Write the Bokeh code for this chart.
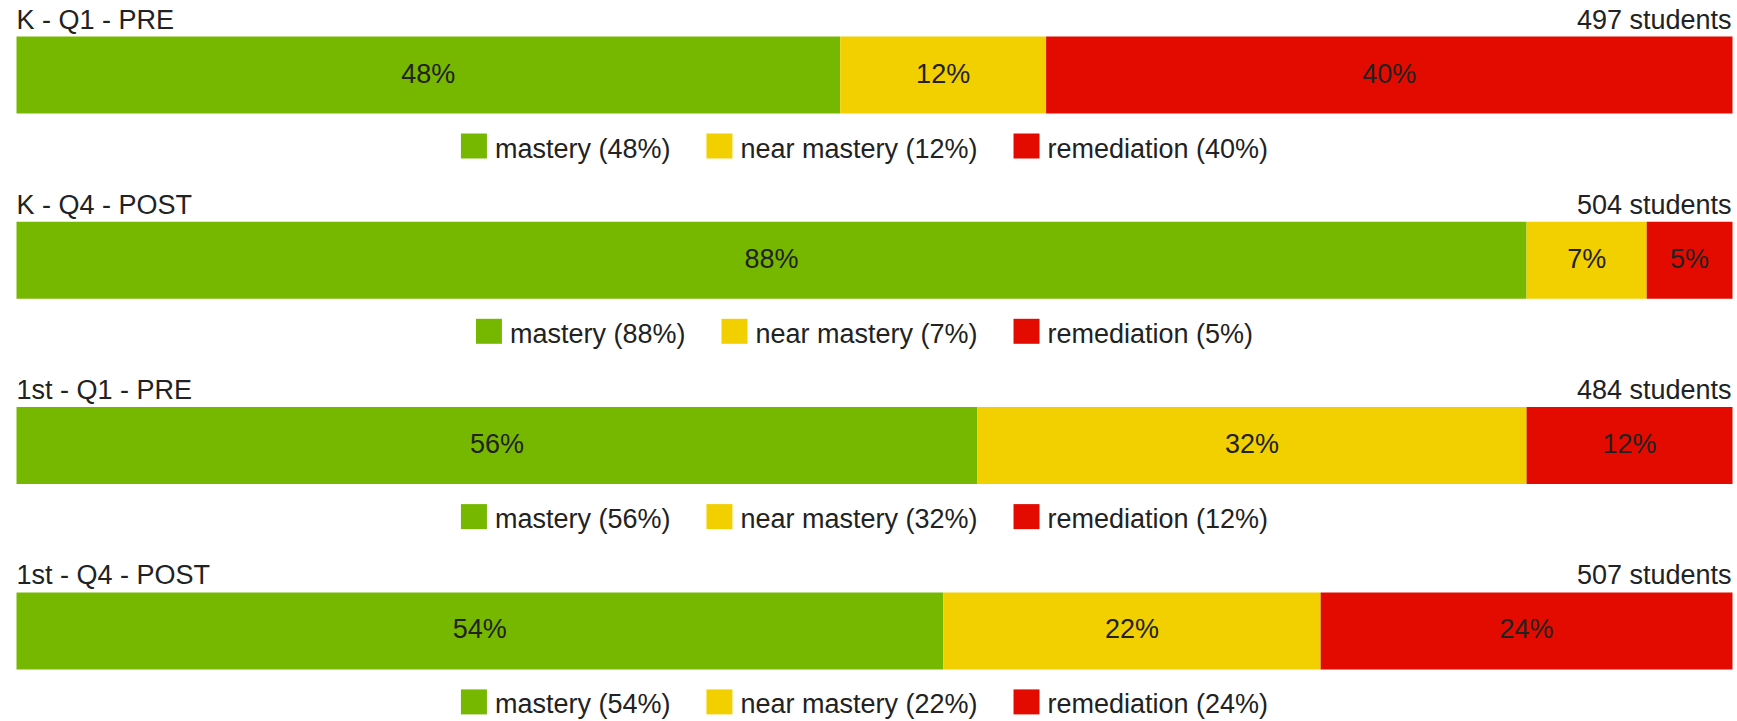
from bokeh.plotting import figure
from bokeh.models import Range1d, ColumnDataSource
from bokeh.core.properties import value
from bokeh.embed import file_html
from bokeh.resources import INLINE

# ---- data ----
groups = ["K - Q1 - PRE", "K - Q4 - POST", "1st - Q1 - PRE", "1st - Q4 - POST"]
students = [497, 504, 484, 507]
mastery = [48, 88, 56, 54]
near_mastery = [12, 7, 32, 22]
remediation = [40, 5, 12, 24]
series_names = ["mastery", "near mastery", "remediation"]
colors = ["#76b800", "#f2d000", "#e30b00"]

# ---- layout (page pixels) ----
FONT = value("Liberation Sans")
FS = 27
FSS = "27px"
TXT = "#222222"
W, H = 1737, 721
ORG = 0
BAR_L, BAR_R = 16, 1732
PITCH = 185.3
DY0 = 0.0
BAR_H = 77
LEG_CENTER = 864
TSHIFT = -9  # renderer places alphabetic baseline lower; compensate

pxpp = (BAR_R - BAR_L) / 100.0
p = figure(width=W, height=H, output_backend="svg", toolbar_location=None,
           x_range=Range1d(-(BAR_L - ORG) / pxpp, (ORG + W - BAR_L) / pxpp),
           y_range=Range1d(ORG + H, ORG), min_border=0,
           x_axis_location=None, y_axis_location=None)
p.extra_x_ranges = {"px": Range1d(ORG, ORG + W)}
p.grid.visible = False
p.outline_line_color = None
p.background_fill_color = "white"
p.border_fill_color = "white"

offs = [DY0 + PITCH * i for i in range(len(groups))]
bar_y = [36 + o + BAR_H / 2 for o in offs]

src = ColumnDataSource(dict(y=bar_y, mastery=mastery, near=near_mastery, rem=remediation))
p.hbar_stack(["mastery", "near", "rem"], y="y", height=BAR_H, color=colors,
             line_color=None, source=src)

# in-bar percentage labels
lx, ly, lt = [], [], []
for i in range(len(groups)):
    vals = [mastery[i], near_mastery[i], remediation[i]]
    cum = 0
    for v in vals:
        lx.append(cum + v / 2.0)
        ly.append(36 + offs[i] + 46 + TSHIFT)
        lt.append(f"{v}%")
        cum += v
p.text(x=lx, y=ly, text=lt, text_align="center", text_baseline="alphabetic",
       text_font=FONT, text_font_size=FSS, text_color=TXT)

# titles & student counts
p.text(x=[BAR_L] * len(groups), y=[28 + o + TSHIFT for o in offs], text=groups,
       x_range_name="px", text_align="left", text_baseline="alphabetic",
       text_font=FONT, text_font_size=FSS, text_color=TXT)
p.text(x=[BAR_R - 1] * len(groups), y=[28 + o + TSHIFT for o in offs],
       text=[f"{s} students" for s in students],
       x_range_name="px", text_align="right", text_baseline="alphabetic",
       text_font=FONT, text_font_size=FSS, text_color=TXT)

# legends (centered, width estimated from Arial metrics)
CW = {'a': 556, 'b': 556, 'c': 500, 'd': 556, 'e': 556, 'i': 222, 'm': 833, 'n': 556,
      'o': 556, 'r': 333, 's': 500, 't': 278, 'y': 500, ' ': 278, '(': 333, ')': 333,
      '%': 889}
def tw(s):
    return sum(CW.get(c, 556) for c in s) / 1000.0 * FS

SW, GAP_T, GAP_I = 26, 8, 36
ql, qr, qt, qb, qc = [], [], [], [], []
tx, ty, tt = [], [], []
for i in range(len(groups)):
    vals = [mastery[i], near_mastery[i], remediation[i]]
    labels = [f"{n} ({v}%)" for n, v in zip(series_names, vals)]
    widths = [tw(l) for l in labels]
    total = sum(SW + GAP_T + w for w in widths) + GAP_I * (len(labels) - 1)
    x = LEG_CENTER - total / 2.0
    for k, l in enumerate(labels):
        ql.append(x); qr.append(x + SW)
        qt.append(133 + offs[i]); qb.append(158 + offs[i])
        qc.append(colors[k])
        tx.append(x + SW + GAP_T); ty.append(158 + offs[i] + TSHIFT - 1); tt.append(l)
        x += SW + GAP_T + widths[k] + GAP_I
p.quad(left=ql, right=qr, top=qt, bottom=qb, color=qc, line_color=None, x_range_name="px")
p.text(x=tx, y=ty, text=tt, x_range_name="px", text_align="left",
       text_baseline="alphabetic", text_font=FONT, text_font_size=FSS, text_color=TXT)

open("out.html", "w").write(file_html(p, INLINE))
